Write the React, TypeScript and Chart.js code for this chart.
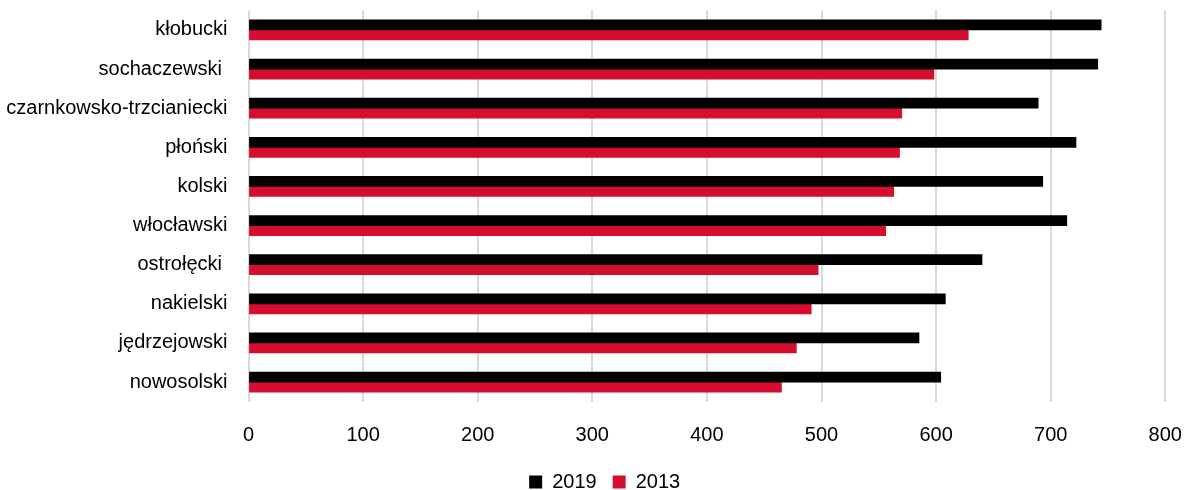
import React, { useEffect, useRef } from "react";
import { Chart, registerables } from "chart.js";

Chart.register(...registerables);

// Counties, top to bottom
const counties = [
  "kłobucki",
  "sochaczewski ",
  "czarnkowsko-trzcianiecki",
  "płoński",
  "kolski",
  "włocławski",
  "ostrołęcki ",
  "nakielski",
  "jędrzejowski",
  "nowosolski",
];

const values2019 = [744, 741, 689, 722, 693, 714, 640, 608, 585, 604];
const values2013 = [628, 598, 570, 568, 563, 556, 497, 491, 478, 465];

const xTicks = [0, 100, 200, 300, 400, 500, 600, 700, 800];

const FONT = "'Liberation Sans', Arial, sans-serif";

// Small nudge of the legend to the right
const legendTweaks = {
  id: "legendTweaks",
  afterLayout(chart: any) {
    const lg = chart.legend;
    if (!lg) return;
    lg.left += 22;
    lg.right += 22;
  },
};

export default function App() {
  const canvasRef = useRef<HTMLCanvasElement | null>(null);

  useEffect(() => {
    if (!canvasRef.current) return;
    const chart = new Chart(canvasRef.current, {
      type: "bar",
      data: {
        labels: counties,
        datasets: [
          {
            label: "2019",
            data: values2019,
            backgroundColor: "#000000",
            borderWidth: 0,
            inflateAmount: 0.4,
            categoryPercentage: 0.51,
            barPercentage: 1,
          },
          {
            label: "2013",
            data: values2013,
            backgroundColor: "#d50d2e",
            borderWidth: 0,
            inflateAmount: 0.4,
            categoryPercentage: 0.51,
            barPercentage: 1,
          },
        ],
      },
      plugins: [legendTweaks],
      options: {
        indexAxis: "y",
        animation: false,
        responsive: false,
        maintainAspectRatio: false,
        layout: { padding: { top: 10.4, right: 18.7, left: 0, bottom: 0 } },
        scales: {
          x: {
            min: 0,
            max: 800,
            afterBuildTicks: (axis: any) => {
              axis.ticks = xTicks.map((v) => ({ value: v }));
            },
            afterFit: (axis: any) => {
              axis.height = 54.4;
              axis.paddingLeft = 0;
              axis.paddingRight = 0;
            },
            grid: {
              color: "#d9d9d9",
              lineWidth: 2,
              drawTicks: true,
              tickLength: 22,
              tickColor: "rgba(0,0,0,0)",
            },
            border: { display: false },
            ticks: {
              color: "#000",
              padding: 0,
              font: { family: FONT, size: 20 },
            },
          },
          y: {
            afterFit: (axis: any) => {
              axis.width = 248.5;
              axis.paddingTop = 0;
              axis.paddingBottom = 0;
            },
            grid: { display: false, drawTicks: false },
            border: { display: false },
            ticks: {
              color: "#000",
              padding: 21,
              font: { family: FONT, size: 20 },
            },
          },
        },
        plugins: {
          legend: {
            position: "bottom",
            labels: {
              boxWidth: 13,
              boxHeight: 13,
              padding: 16,
              color: "#000",
              font: { family: FONT, size: 20 },
            },
          },
          tooltip: { enabled: false },
        },
      },
    });

    // Trim the legend box so it sits close to the bottom edge
    const lg: any = chart.legend;
    if (lg) {
      const origFit = lg.fit.bind(lg);
      lg.fit = function () {
        origFit();
        this.height = 34;
      };
      chart.update();
    }

    return () => chart.destroy();
  }, []);

  return (
    <div style={{ position: "fixed", left: 0, top: 0, width: 1184, height: 490, background: "#fff" }}>
      <canvas ref={canvasRef} width={1184} height={490} style={{ width: 1184, height: 490 }} />
    </div>
  );
}
